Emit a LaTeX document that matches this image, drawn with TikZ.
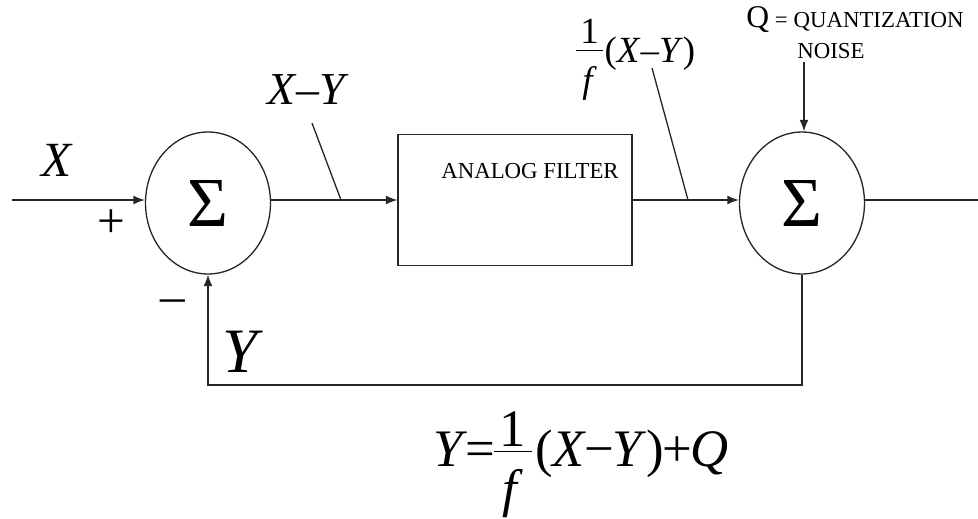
\documentclass[tikz,border=0pt]{standalone}
\usepackage{fontspec}
\setmainfont{Liberation Serif}
\usetikzlibrary{shapes.geometric,arrows.meta}
\newcommand{\fs}[1]{\fontsize{#1}{#1}\selectfont}
% #1 numerator, #2 denominator, #3 bar height, #4 numerator baseline above bar, #5 denominator baseline below baseline
\newcommand{\fr}[5]{\hbox to 0.72em{%
 \rlap{\hbox to 0.72em{\hss\raise\dimexpr#3+#4\relax\hbox{#1}\hss}}%
 \rlap{\raise#3\hbox{\vrule width0.72em height0.7pt depth0pt}}%
 \rlap{\hbox to 0.72em{\hss\lower#5\hbox{#2}\hss}}%
 \hss}}
\begin{document}
\begin{tikzpicture}[x=0.02cm,y=-0.02cm,
  ln/.style={line width=0.75pt,draw=black!85},
  arr/.style={ln,-{Latex[length=6.5pt,width=5pt]}},
  sumnode/.style={ellipse,draw=black!85,line width=0.75pt,minimum width=2.5cm,minimum height=2.84cm,inner sep=0pt,font=\fs{40}},
  blk/.style={rectangle,draw=black!85,line width=0.75pt,minimum width=4.68cm,minimum height=2.62cm,inner sep=0pt},
  lbl/.style={inner sep=0pt,font=\fs{28}\itshape},
  small/.style={inner sep=0pt,font=\fs{13}}
]
\useasboundingbox (0,0) rectangle (978,518);
% nodes
\node[sumnode] (s1) at (208,203) {Σ};
\node[sumnode] (s2) at (802,203) {Σ};
\node[blk] (box) at (515,200) {};
\node[small] (flt) at (530,171) {ANALOG FILTER};
\coordinate (in) at (12,200);
\coordinate (out) at (978,200);
\coordinate (qa) at (804,62);
\coordinate (fb) at (500,385);
\coordinate (t1a) at (312,123);
\coordinate (t1b) at (341,200);
\coordinate (t2a) at (652,68);
\coordinate (t2b) at (688,200);
% connectors
\draw[arr] (in) -- (in -| s1.west);
\draw[arr] (s1.east |- box) -- (box);
\draw[arr] (box) -- (box -| s2.west);
\draw[ln] (s2.east |- out) -- (out);
\draw[arr] (qa) -- (qa |- s2.north);
\draw[arr] (s2.south) |- (fb) -| (s1.south);
\draw[ln] (t1a) -- (t1b);
\draw[ln] (t2a) -- (t2b);
% labels
\node[lbl] (lx) at (57,160) {X};
\node[inner sep=0pt,font=\fs{28}] (plus) at (111,224) {+};
\node[inner sep=0pt,font=\fs{28}] (minus) at (173,306) {–};
\node[inner sep=0pt,font=\fs{36}\itshape] (ly) at (240,352) {Y};
\node[inner sep=0pt,font=\fs{26}] (lxy) at (308,90) {\textit{X}–\textit{Y}};
\node[inner sep=0pt,anchor=base west,font=\fs{21}] (lf) at (576,62) {\fr{1}{\textit{f}}{0.29em}{0.2em}{0.83em}\kern1pt(\textit{X}–\textit{Y})};
\node[inner sep=0pt,anchor=base,font=\fs{13}] (lq) at (855,27) {{\fs{18}Q} = QUANTIZATION};
\node[small,anchor=base] (ln2) at (831,58) {NOISE};
\node[inner sep=0pt,anchor=base west,font=\fs{30}] (eq) at (433,466) {\textit{Y}\kern-1pt=\kern-1pt\fr{1}{\textit{f}}{0.26em}{0.11em}{0.76em}\kern2pt(\textit{X}\kern-1pt−\kern-1pt\textit{Y})\kern-1pt+\kern-1pt\textit{Q}};
\end{tikzpicture}
\end{document}
